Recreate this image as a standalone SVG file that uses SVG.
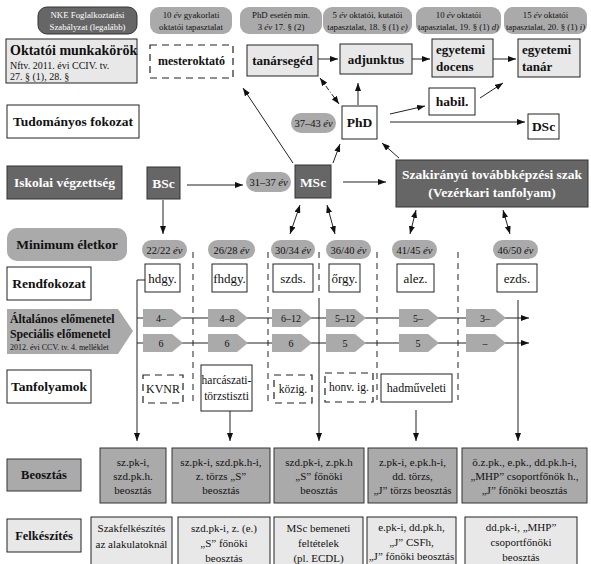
<svg xmlns="http://www.w3.org/2000/svg" width="591" height="564" viewBox="0 0 591 564">
<style>
text{font-family:"Liberation Serif","Times New Roman",serif;fill:#111}
.b{font-weight:bold}
.w{fill:#fff}
.i{font-style:italic}
.c{text-anchor:middle}
.dk{fill:#666;stroke:#333;stroke-width:1}
.md{fill:#aaa}
.mds{fill:#aaa;stroke:#333;stroke-width:1}
.lt{fill:#e8e8e8;stroke:#222;stroke-width:1}
.wh{fill:#fff;stroke:#222;stroke-width:1}
.ds{fill:#fff;stroke:#222;stroke-width:1.2;stroke-dasharray:7 5}
.ln{stroke:#222;stroke-width:1;fill:none}
.ar{marker-end:url(#ah)}
.da{marker-start:url(#ah);marker-end:url(#ah)}
.dv{stroke:#222;stroke-width:1;stroke-dasharray:6 5;fill:none}
.pill{font-size:8.8px}
.age{font-size:10.5px}
.rank{font-size:13px}
.pent{font-size:10px}
.box{font-size:11px}
</style>
<defs>
<marker id="ah" viewBox="0 0 8 6" refX="8" refY="3" markerWidth="8" markerHeight="6" orient="auto-start-reverse" markerUnits="userSpaceOnUse"><path d="M0,0 L8,3 L0,6 z" fill="#111"/></marker>
<path id="pg" d="M0,0 H29 L40,9 L29,18 H0 Z"/>
</defs>

<!-- top requirement pills -->
<g id="req-nke"><rect x="38" y="7" width="99" height="27" rx="9" class="dk"/><text x="87.5" y="18" class="c w pill">NKE Foglalkoztatási</text><text x="87.5" y="30" class="c w pill">Szabályzat (legalább)</text></g>
<g id="req-mester"><rect x="150" y="7" width="82" height="27" rx="9" class="md"/><text x="191" y="18" class="c pill">10 <tspan class="i">év</tspan> gyakorlati</text><text x="191" y="30" class="c pill">oktatói tapasztalat</text></g>
<g id="req-tanarseged"><rect x="240" y="7" width="82" height="27" rx="9" class="md"/><text x="281" y="18" class="c pill">PhD esetén min.</text><text x="281" y="30" class="c pill">3 <tspan class="i">év</tspan> 17. § (2)</text></g>
<g id="req-adjunktus"><rect x="323" y="7" width="89" height="27" rx="9" class="md"/><text x="367.5" y="18" class="c pill">5 <tspan class="i">év</tspan> oktatói, kutatói</text><text x="367.5" y="30" class="c pill">tapasztalat, 18. § (1) <tspan class="i">e)</tspan></text></g>
<g id="req-docens"><rect x="416" y="7" width="85" height="27" rx="9" class="md"/><text x="458.5" y="18" class="c pill">10 <tspan class="i">év</tspan> oktatói</text><text x="458.5" y="30" class="c pill">tapasztalat, 19. § (1) <tspan class="i">d)</tspan></text></g>
<g id="req-tanar"><rect x="504" y="7" width="83" height="27" rx="9" class="md"/><text x="545.5" y="18" class="c pill">15 <tspan class="i">év</tspan> oktatói</text><text x="545.5" y="30" class="c pill">tapasztalat, 20. § (1) <tspan class="i">i)</tspan></text></g>

<!-- row labels -->
<g id="lbl-oktatoi"><rect x="6" y="39" width="131" height="44" class="lt"/><text x="10" y="55" class="b" font-size="14">Oktatói munkakörök</text><text x="10" y="69" font-size="10">Nftv. 2011. évi CCIV. tv.</text><text x="10" y="80" font-size="10">27. § (1), 28. §</text></g>
<g id="lbl-tudomanyos"><rect x="7" y="105" width="132" height="33" class="wh"/><text x="73" y="126" class="c b" font-size="13.5">Tudományos fokozat</text></g>
<g id="lbl-iskolai"><rect x="7" y="166" width="115" height="33" class="dk"/><text x="64.5" y="187" class="c b w" font-size="13.5">Iskolai végzettség</text></g>
<g id="lbl-eletkor"><rect x="7" y="228" width="120" height="33" rx="10" class="md"/><text x="67" y="249" class="c b" font-size="13.5">Minimum életkor</text></g>
<g id="lbl-rendfokozat"><rect x="7" y="267" width="84" height="33" class="wh"/><text x="49" y="288" class="c b" font-size="13.5">Rendfokozat</text></g>
<g id="lbl-elomenetel"><polygon points="7,309 118,309 133,331 118,354 7,354" class="md"/><text x="10" y="323" class="b" font-size="11.8">Általános előmenetel</text><text x="10" y="338" class="b" font-size="11.8">Speciális előmenetel</text><text x="10" y="350" font-size="8">2012. évi CCV. tv. 4. melléklet</text></g>
<g id="lbl-tanfolyamok"><rect x="7" y="370" width="84" height="33" class="wh"/><text x="49" y="391" class="c b" font-size="13.5">Tanfolyamok</text></g>
<g id="lbl-beosztas"><rect x="7" y="459" width="74" height="32" class="mds"/><text x="44" y="479" class="c b" font-size="12.5">Beosztás</text></g>
<g id="lbl-felkeszites"><rect x="7" y="519" width="74" height="33" class="lt"/><text x="44" y="540" class="c b" font-size="12.5">Felkészítés</text></g>

<!-- academic positions -->
<g id="mesteroktato"><rect x="150" y="45" width="83" height="33" class="ds"/><text x="191.5" y="65" class="c b" font-size="12">mesteroktató</text></g>
<g id="tanarseged"><rect x="247" y="45" width="71" height="31" class="lt"/><text x="282.5" y="65" class="c b" font-size="13">tanársegéd</text></g>
<g id="adjunktus"><rect x="340" y="44" width="72" height="30" class="lt"/><text x="376" y="64" class="c b" font-size="13">adjunktus</text></g>
<g id="docens"><rect x="432" y="39" width="61" height="38" class="lt"/><text x="436" y="54" class="b" font-size="13">egyetemi</text><text x="436" y="71" class="b" font-size="13">docens</text></g>
<g id="egyetemi-tanar"><rect x="518" y="39" width="62" height="38" class="lt"/><text x="522" y="54" class="b" font-size="13">egyetemi</text><text x="522" y="71" class="b" font-size="13">tanár</text></g>

<!-- degrees -->
<g id="age-phd"><rect x="291" y="113" width="45" height="20" rx="10" class="md"/><text x="313.5" y="127" class="c age">37–43 <tspan class="i">év</tspan></text></g>
<g id="phd"><rect x="342" y="106" width="35" height="33" class="wh"/><text x="359.5" y="127" class="c b" font-size="13.5">PhD</text></g>
<g id="habil"><rect x="429" y="88" width="46" height="27" class="wh"/><text x="452" y="106" class="c b" font-size="13.5">habil.</text></g>
<g id="dsc"><rect x="528" y="114" width="31" height="25" class="wh"/><text x="543.5" y="131" class="c b" font-size="13.5">DSc</text></g>
<g id="bsc"><rect x="147" y="167" width="33" height="32" class="dk"/><text x="163.5" y="188" class="c b w" font-size="13.5">BSc</text></g>
<g id="age-msc"><rect x="246" y="172" width="45" height="20" rx="10" class="md"/><text x="268.5" y="186" class="c age">31–37 <tspan class="i">év</tspan></text></g>
<g id="msc"><rect x="295" y="165" width="36" height="33" class="dk"/><text x="313" y="187" class="c b w" font-size="13.5">MSc</text></g>
<g id="szakiranyu"><rect x="396" y="160" width="192" height="47" class="dk"/><text x="492" y="179" class="c b w" font-size="13.5">Szakirányú továbbképzési szak</text><text x="492" y="197" class="c b w" font-size="13.5">(Vezérkari tanfolyam)</text></g>

<!-- ages -->
<g id="age1"><rect x="142" y="240" width="45" height="19" rx="9.5" class="md"/><text x="164.5" y="253.5" class="c age">22/22 <tspan class="i">év</tspan></text></g>
<g id="age2"><rect x="208" y="240" width="47" height="19" rx="9.5" class="md"/><text x="231.5" y="253.5" class="c age">26/28 <tspan class="i">év</tspan></text></g>
<g id="age3"><rect x="271" y="240" width="44" height="19" rx="9.5" class="md"/><text x="293" y="253.5" class="c age">30/34 <tspan class="i">év</tspan></text></g>
<g id="age4"><rect x="326" y="240" width="45" height="19" rx="9.5" class="md"/><text x="348.5" y="253.5" class="c age">36/40 <tspan class="i">év</tspan></text></g>
<g id="age5"><rect x="392" y="240" width="45" height="19" rx="9.5" class="md"/><text x="414.5" y="253.5" class="c age">41/45 <tspan class="i">év</tspan></text></g>
<g id="age6"><rect x="493" y="240" width="45" height="19" rx="9.5" class="md"/><text x="515.5" y="253.5" class="c age">46/50 <tspan class="i">év</tspan></text></g>

<!-- ranks -->
<g id="rank-hdgy"><rect x="145" y="264" width="35" height="28" class="wh"/><text x="162.5" y="283" class="c rank">hdgy.</text></g>
<g id="rank-fhdgy"><rect x="212" y="264" width="35" height="28" class="wh"/><text x="229.5" y="283" class="c rank">fhdgy.</text></g>
<g id="rank-szds"><rect x="273" y="264" width="40" height="28" class="wh"/><text x="293" y="283" class="c rank">szds.</text></g>
<g id="rank-orgy"><rect x="329" y="264" width="31" height="28" class="wh"/><text x="344.5" y="283" class="c rank">őrgy.</text></g>
<g id="rank-alez"><rect x="397" y="264" width="37" height="28" class="wh"/><text x="415.5" y="283" class="c rank">alez.</text></g>
<g id="rank-ezds"><rect x="497" y="264" width="40" height="28" class="wh"/><text x="517" y="283" class="c rank">ezds.</text></g>

<!-- connectors -->
<g id="connectors">
<line x1="318" y1="59" x2="338" y2="59" class="ln ar"/>
<line x1="412" y1="59" x2="430" y2="59" class="ln ar"/>
<line x1="493" y1="59" x2="516" y2="59" class="ln ar"/>
<line x1="320" y1="78" x2="339" y2="104" class="ln da" stroke-dasharray="5 2 1 2"/>
<line x1="358" y1="105" x2="358" y2="83" class="ln ar"/>
<line x1="390" y1="114" x2="425" y2="106" class="ln ar"/>
<line x1="480" y1="98" x2="503" y2="83" class="ln ar"/>
<line x1="390" y1="122" x2="525" y2="122" class="ln ar"/>
<line x1="293" y1="163" x2="243" y2="88" class="ln ar"/>
<line x1="333" y1="163" x2="340" y2="144" class="ln ar"/>
<line x1="343" y1="182" x2="386" y2="182" class="ln ar"/>
<line x1="187" y1="185" x2="243" y2="185" class="ln ar"/>
<line x1="399" y1="158" x2="382" y2="143" class="ln ar"/>
<line x1="163" y1="200" x2="163" y2="234" class="ln ar"/>
<line x1="300" y1="205" x2="290" y2="234" class="ln da"/>
<line x1="327" y1="205" x2="335" y2="234" class="ln da"/>
<line x1="416" y1="210" x2="410" y2="234" class="ln da"/>
<line x1="503" y1="210" x2="510" y2="234" class="ln da"/>
<!-- dividers -->
<line x1="193" y1="252" x2="193" y2="402" class="dv"/>
<line x1="268" y1="252" x2="268" y2="403" class="dv"/>
<line x1="319" y1="252" x2="319" y2="296" class="dv"/>
<line x1="377" y1="252" x2="377" y2="400" class="dv"/>
<line x1="458" y1="252" x2="458" y2="400" class="dv"/>
<!-- verticals to beosztás -->
<polyline points="145,280 137,280 137,441" class="ln ar"/>
<line x1="319" y1="298" x2="319" y2="441" class="ln ar"/>
<line x1="518" y1="300" x2="518" y2="441" class="ln ar"/>
<line x1="230" y1="411" x2="230" y2="441" class="ln ar"/>
<line x1="416" y1="410" x2="416" y2="441" class="ln ar"/>
<!-- progression lines -->
<line x1="137" y1="318" x2="529" y2="318" class="ln ar"/>
<line x1="137" y1="343" x2="529" y2="343" class="ln ar"/>
</g>

<!-- progression pentagons -->
<g id="prog-1"><use href="#pg" x="143" y="309" class="md"/><text x="161" y="322" class="c pent">4–</text><use href="#pg" x="143" y="334" class="md"/><text x="161" y="347" class="c pent">6</text></g>
<g id="prog-2"><use href="#pg" x="208" y="309" class="md"/><text x="227" y="322" class="c pent">4–8</text><use href="#pg" x="208" y="334" class="md"/><text x="227" y="347" class="c pent">6</text></g>
<g id="prog-3"><use href="#pg" x="272" y="309" class="md"/><text x="291" y="322" class="c pent">6–12</text><use href="#pg" x="272" y="334" class="md"/><text x="291" y="347" class="c pent">6</text></g>
<g id="prog-4"><use href="#pg" x="326" y="309" class="md"/><text x="345" y="322" class="c pent">5–12</text><use href="#pg" x="326" y="334" class="md"/><text x="345" y="347" class="c pent">5</text></g>
<g id="prog-5"><use href="#pg" x="399" y="309" class="md"/><text x="418" y="322" class="c pent">5–</text><use href="#pg" x="399" y="334" class="md"/><text x="418" y="347" class="c pent">5</text></g>
<g id="prog-6"><use href="#pg" x="466" y="309" class="md"/><text x="485" y="322" class="c pent">3–</text><use href="#pg" x="466" y="334" class="md"/><text x="485" y="347" class="c pent">–</text></g>

<!-- courses -->
<g id="kvnr"><rect x="143" y="375" width="40" height="28" class="ds"/><text x="163" y="393" class="c" font-size="12">KVNR</text></g>
<g id="harcaszati"><rect x="201" y="365" width="51" height="46" class="wh"/><text x="226.5" y="384" class="c" font-size="11.5">harcászati-</text><text x="226.5" y="400" class="c" font-size="11.5">törzstiszti</text></g>
<g id="kozig"><rect x="274" y="375" width="38" height="28" class="ds"/><text x="293" y="393" class="c" font-size="11.5">közig.</text></g>
<g id="honv"><rect x="325" y="373" width="48" height="29" class="ds"/><text x="349" y="391" class="c" font-size="11.5">honv. ig.</text></g>
<g id="hadmuveleti"><rect x="381" y="374" width="71" height="28" class="wh"/><text x="416.5" y="392" class="c" font-size="12">hadműveleti</text></g>

<!-- beosztás boxes -->
<g id="beo-1"><rect x="100" y="448" width="66" height="55" class="mds"/><text x="133" y="466" class="c box">sz.pk-i,</text><text x="133" y="480" class="c box">szd.pk.h.</text><text x="133" y="494" class="c box">beosztás</text></g>
<g id="beo-2"><rect x="172" y="448" width="98" height="55" class="mds"/><text x="221" y="466" class="c box">sz.pk-i, szd.pk.h-i,</text><text x="221" y="480" class="c box">z. törzs „S”</text><text x="221" y="494" class="c box">beosztás</text></g>
<g id="beo-3"><rect x="274" y="448" width="90" height="55" class="mds"/><text x="319" y="466" class="c box">szd.pk-i, z.pk.h</text><text x="319" y="480" class="c box">„S” főnöki</text><text x="319" y="494" class="c box">beosztás</text></g>
<g id="beo-4"><rect x="368" y="448" width="89" height="55" class="mds"/><text x="412.5" y="466" class="c box">z.pk-i, e.pk.h-i,</text><text x="412.5" y="480" class="c box">dd. törzs,</text><text x="412.5" y="494" class="c box">„J” törzs beosztás</text></g>
<g id="beo-5"><rect x="462" y="448" width="125" height="55" class="mds"/><text x="524.5" y="466" class="c box">ö.z.pk., e.pk., dd.pk.h-i,</text><text x="524.5" y="480" class="c box">„MHP” csoportfőnök h.,</text><text x="524.5" y="494" class="c box">„J” főnöki beosztás</text></g>

<!-- felkészítés boxes -->
<g id="fel-1"><rect x="91" y="517" width="81" height="52" class="lt"/><text x="131.5" y="532" class="c box">Szakfelkészítés</text><text x="131.5" y="548" class="c box">az alakulatoknál</text></g>
<g id="fel-2"><rect x="178" y="517" width="92" height="52" class="lt"/><text x="224" y="532" class="c box">szd.pk-i, z. (e.)</text><text x="224" y="547" class="c box">„S” főnöki</text><text x="224" y="562" class="c box">beosztás</text></g>
<g id="fel-3"><rect x="274" y="517" width="89" height="52" class="lt"/><text x="318.5" y="532" class="c box">MSc bemeneti</text><text x="318.5" y="547" class="c box">feltételek</text><text x="318.5" y="562" class="c box">(pl. ECDL)</text></g>
<g id="fel-4"><rect x="367" y="517" width="89" height="52" class="lt"/><text x="411.5" y="531" class="c box">e.pk-i, dd.pk.h,</text><text x="411.5" y="546" class="c box">„J” CSFh,</text><text x="411.5" y="560" class="c box">„J” főnöki beosztás</text></g>
<g id="fel-5"><rect x="465" y="517" width="112" height="52" class="lt"/><text x="521" y="531" class="c box">dd.pk-i, „MHP”</text><text x="521" y="546" class="c box">csoportfőnöki</text><text x="521" y="561" class="c box">beosztás</text></g>
</svg>
